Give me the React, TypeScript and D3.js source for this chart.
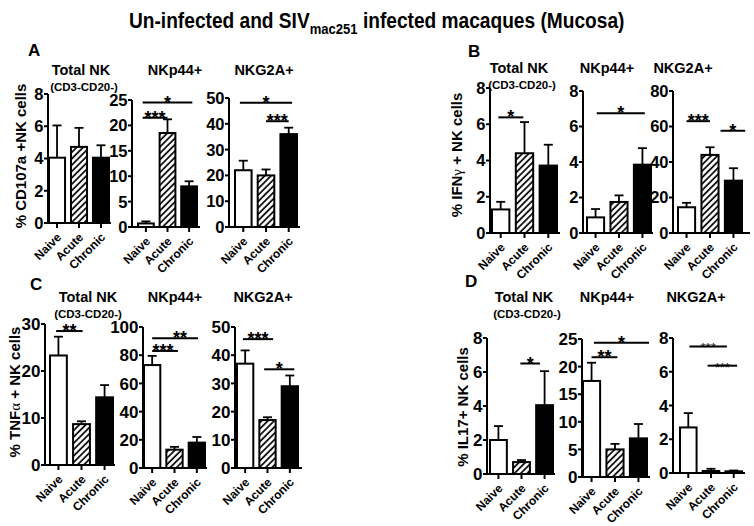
import React from "react";
import * as d3 from "d3";

const groups = ["Naive", "Acute", "Chronic"];

// Panel A: CD107a
const cd107aTotal = [4.05, 4.72, 4.05];
const cd107aTotalSem = [2.0, 1.18, 0.77];
const cd107aNkp44 = [0.7, 18.5, 8.0];
const cd107aNkp44Sem = [0.4, 2.7, 1.0];
const cd107aNkg2a = [22, 20, 36];
const cd107aNkg2aSem = [3.7, 2.3, 2.5];

// Panel B: IFNg
const ifngTotal = [1.3, 4.4, 3.72];
const ifngTotalSem = [0.42, 1.72, 1.15];
const ifngNkp44 = [0.88, 1.75, 3.85];
const ifngNkp44Sem = [0.47, 0.37, 0.93];
const ifngNkg2a = [14.5, 44, 29.5];
const ifngNkg2aSem = [2.5, 4.3, 7.0];

// Panel C: TNFa
const tnfaTotal = [23.3, 8.7, 14.4];
const tnfaTotalSem = [4.0, 0.6, 2.6];
const tnfaNkp44 = [73, 13, 18];
const tnfaNkp44Sem = [6.5, 2.0, 4.0];
const tnfaNkg2a = [37, 17, 29];
const tnfaNkg2aSem = [4.7, 1.0, 3.8];

// Panel D: IL17
const il17Total = [2.0, 0.7, 4.05];
const il17TotalSem = [0.82, 0.12, 2.0];
const il17Nkp44 = [17.4, 5.0, 7.0];
const il17Nkp44Sem = [3.3, 1.0, 2.6];
const il17Nkg2a = [2.7, 0.12, 0.1];
const il17Nkg2aSem = [0.85, 0.13, 0.05];

// Axis maxima and tick steps
const axisMax = { A1: 8, A2: 25, A3: 50, B1: 8, B2: 8, B3: 80, C1: 30, C2: 100, C3: 50, D1: 8, D2: 25, D3: 8 };
const axisStep = { A1: 2, A2: 5, A3: 10, B1: 2, B2: 2, B3: 20, C1: 10, C2: 20, C3: 10, D1: 2, D2: 5, D3: 2 };

// Significance: [from group index, to group index, value, label]
const sigA2 = [[-0.15, 1.0, 21.5, "***"], [-0.15, 2.15, 24.5, "*"]];
const sigA3 = [[-0.15, 2.15, 48.2, "*"], [1.0, 2.0, 41, "***"]];
const sigB1 = [[-0.1, 0.95, 6.38, "*"]];
const sigB2 = [[0.05, 2.1, 6.74, "*"]];
const sigB3 = [[0.0, 1.0, 63, "***"], [1.45, 2.5, 57.6, "*"]];
const sigC1 = [[-0.1, 1.05, 28.5, "**"]];
const sigC2 = [[0.0, 1.15, 83, "***"], [0.0, 2.05, 92, "**"]];
const sigC3 = [[-0.1, 1.25, 45.7, "***"], [0.85, 2.2, 35, "*"]];
const sigD1 = [[0.95, 1.8, 6.5, "*"]];
const sigD2 = [[0.0, 1.1, 21.7, "**"], [0.1, 2.45, 24.3, "*"]];
const sigD3 = [[0.05, 1.7, 7.5, "***"], [0.85, 2.15, 6.36, "***"]];

// label nudges (layout only), keyed by subchart and sig index
const starNudge: Record<string, number> = { "C2-0": -2, "C2-1": 5 };

const FONT = "'Liberation Sans', Arial, Helvetica, sans-serif";

type Sub = {
  key: string;
  means: number[];
  sems: number[];
  sigs: any[];
  x0: number;
  band: [number, number];
  x1: number;
  yTop: number;
  yBot: number;
  tickFont: number;
  starFont?: number;
  starWeight?: string;
};

const subs: Sub[] = [
  { key: "A1", means: cd107aTotal, sems: cd107aTotalSem, sigs: [], x0: 48, band: [49, 109], x1: 111, yTop: 94, yBot: 223, tickFont: 16.5 },
  { key: "A2", means: cd107aNkp44, sems: cd107aNkp44Sem, sigs: sigA2, x0: 132, band: [138, 197], x1: 200, yTop: 100, yBot: 227, tickFont: 16.5 },
  { key: "A3", means: cd107aNkg2a, sems: cd107aNkg2aSem, sigs: sigA3, x0: 229, band: [235, 297], x1: 300, yTop: 98, yBot: 227, tickFont: 16.5 },
  { key: "B1", means: ifngTotal, sems: ifngTotalSem, sigs: sigB1, x0: 490, band: [492, 557], x1: 560, yTop: 88, yBot: 233, tickFont: 16.5 },
  { key: "B2", means: ifngNkp44, sems: ifngNkp44Sem, sigs: sigB2, x0: 583, band: [587, 651], x1: 653, yTop: 91, yBot: 233, tickFont: 16.5 },
  { key: "B3", means: ifngNkg2a, sems: ifngNkg2aSem, sigs: sigB3, x0: 673, band: [678, 742], x1: 750, yTop: 91, yBot: 233, tickFont: 16.5 },
  { key: "C1", means: tnfaTotal, sems: tnfaTotalSem, sigs: sigC1, x0: 45, band: [50, 113], x1: 115, yTop: 324, yBot: 465, tickFont: 17 },
  { key: "C2", means: tnfaNkp44, sems: tnfaNkp44Sem, sigs: sigC2, x0: 143, band: [144, 205], x1: 207, yTop: 327, yBot: 468, tickFont: 17 },
  { key: "C3", means: tnfaNkg2a, sems: tnfaNkg2aSem, sigs: sigC3, x0: 235, band: [237, 298], x1: 302, yTop: 327, yBot: 468, tickFont: 17 },
  { key: "D1", means: il17Total, sems: il17TotalSem, sigs: sigD1, x0: 487, band: [490, 553], x1: 555, yTop: 338, yBot: 474, tickFont: 17 },
  { key: "D2", means: il17Nkp44, sems: il17Nkp44Sem, sigs: sigD2, x0: 582, band: [583, 647], x1: 650, yTop: 339, yBot: 477, tickFont: 17 },
  { key: "D3", means: il17Nkg2a, sems: il17Nkg2aSem, sigs: sigD3, x0: 673, band: [680, 742], x1: 745, yTop: 338, yBot: 473, tickFont: 17, starFont: 13, starWeight: "normal" },
];

const fills = ["#fff", "url(#hatch)", "#000"];

function SubChart({ s }: { s: Sub }) {
  const max = (axisMax as any)[s.key];
  const step = (axisStep as any)[s.key];
  const y = d3.scaleLinear().domain([0, max]).range([s.yBot, s.yTop]);
  const x = d3.scaleBand().domain(groups).range(s.band).paddingInner(0.27).paddingOuter(0);
  const ticks = d3.range(0, max + step / 2, step);
  const bw = x.bandwidth();
  const c0 = (x(groups[0]) as number) + bw / 2;
  const stepPx = x.step();
  const pos = (i: number) => c0 + i * stepPx;
  return (
    <g>
      {groups.map((g, i) => {
        const bx = x(g) as number;
        const top = y(s.means[i]);
        const et = y(s.means[i] + s.sems[i]);
        const cx = bx + bw / 2;
        return (
          <g key={g}>
            <line x1={cx} x2={cx} y1={top} y2={et} stroke="#000" strokeWidth={1.8} />
            <line x1={cx - 4.5} x2={cx + 4.5} y1={et} y2={et} stroke="#000" strokeWidth={1.8} />
            <rect x={bx} y={top} width={bw} height={s.yBot - top} fill={fills[i]} stroke="#000" strokeWidth={2} />
          </g>
        );
      })}
      {/* y axis */}
      <line x1={s.x0} x2={s.x0} y1={s.yBot + 1} y2={s.yTop} stroke="#000" strokeWidth={2} />
      {ticks.map((t) => (
        <g key={t}>
          <line x1={s.x0 - 4} x2={s.x0} y1={y(t)} y2={y(t)} stroke="#000" strokeWidth={2} />
          <text x={s.x0 - 4.5} y={y(t)} dy="0.36em" textAnchor="end" fontFamily={FONT} fontWeight="bold" fontSize={s.tickFont}>
            {t}
          </text>
        </g>
      ))}
      {/* x axis */}
      <line x1={s.x0} x2={s.x1} y1={s.yBot} y2={s.yBot} stroke="#000" strokeWidth={2} />
      {groups.map((g) => {
        const cx = (x(g) as number) + bw / 2;
        return (
          <g key={g}>
            <line x1={cx} x2={cx} y1={s.yBot} y2={s.yBot + 5} stroke="#000" strokeWidth={2} />
            <text
              transform={`translate(${cx + 5},${s.yBot + 15}) rotate(-45)`}
              textAnchor="end"
              fontFamily={FONT}
              fontWeight="bold"
              fontSize={12}
            >
              {g}
            </text>
          </g>
        );
      })}
      {/* significance */}
      {s.sigs.map((sg: any, k: number) => {
        const ly = y(sg[2]);
        const xa = pos(sg[0]);
        const xb = pos(sg[1]);
        const nudge = starNudge[`${s.key}-${k}`] || 0;
        return (
          <g key={k}>
            <line x1={xa} x2={xb} y1={ly} y2={ly} stroke="#000" strokeWidth={2} />
            <text
              x={(xa + xb) / 2 + nudge}
              y={ly + 6}
              textAnchor="middle"
              fontFamily={FONT}
              fontWeight={s.starWeight || "bold"}
              fontSize={s.starFont || 18}
            >
              {sg[3]}
            </text>
          </g>
        );
      })}
    </g>
  );
}

const titleStyle = { fontFamily: FONT, fontWeight: "bold" as const };

function Titles({ cx1, cx2, cx3, base, subCx }: { cx1: number; cx2: number; cx3: number; base: number; subCx: number }) {
  return (
    <g style={titleStyle}>
      <text x={cx1} y={base} textAnchor="middle" fontSize={14.5}>Total NK</text>
      <text x={subCx} y={base + 16} textAnchor="middle" fontSize={11.5}>(CD3-CD20-)</text>
      <text x={cx2} y={base} textAnchor="middle" fontSize={14.5}>NKp44+</text>
      <text x={cx3} y={base} textAnchor="middle" fontSize={14.5}>NKG2A+</text>
    </g>
  );
}

export default function App() {
  return (
    <svg width={754} height={526} style={{ position: "absolute", left: 0, top: 0, background: "#fff" }}>
      <defs>
        <pattern id="hatch" patternUnits="userSpaceOnUse" width={4.5} height={4.5} patternTransform="rotate(45)">
          <rect width={4.5} height={4.5} fill="#fff" />
          <line x1={1} y1={0} x2={1} y2={4.5} stroke="#000" strokeWidth={1.7} />
        </pattern>
      </defs>
      <rect width={754} height={526} fill="#fff" />
      <g transform="translate(129,28) scale(0.87,1)">
        <text x={0} y={0} fontFamily={FONT} fontWeight="bold" fontSize={22}>
          Un-infected and SIV<tspan dy={6} fontSize={15}>mac251</tspan>
          <tspan dy={-6}> infected macaques (Mucosa)</tspan>
        </text>
      </g>

      {/* panel letters */}
      <g fontFamily={FONT} fontWeight="bold" fontSize={17}>
        <text x={28} y={56}>A</text>
        <text x={468} y={57}>B</text>
        <text x={30} y={290}>C</text>
        <text x={465} y={287}>D</text>
      </g>

      <Titles cx1={81} cx2={175} cx3={264} base={75} subCx={84} />
      <Titles cx1={519} cx2={607} cx3={683} base={73} subCx={522} />
      <Titles cx1={88} cx2={175} cx3={263} base={302} subCx={88} />
      <Titles cx1={524} cx2={607} cx3={696} base={302} subCx={527} />

      {/* y labels */}
      <g fontFamily={FONT} fontWeight="bold" fontSize={15} textAnchor="middle">
        <text transform="translate(26,156) rotate(-90)">% CD107a +NK cells</text>
        <text transform="translate(462,155) rotate(-90)">
          % IFN<tspan fontWeight="normal" fontFamily="'Liberation Serif', serif">γ</tspan> + NK cells
        </text>
        <text transform="translate(20,392) rotate(-90)">
          % TNF<tspan fontWeight="normal" fontFamily="'Liberation Serif', serif">α</tspan> + NK cells
        </text>
        <text transform="translate(468,407) rotate(-90)">% IL17+ NK cells</text>
      </g>

      {subs.map((s) => (
        <SubChart key={s.key} s={s} />
      ))}
    </svg>
  );
}
